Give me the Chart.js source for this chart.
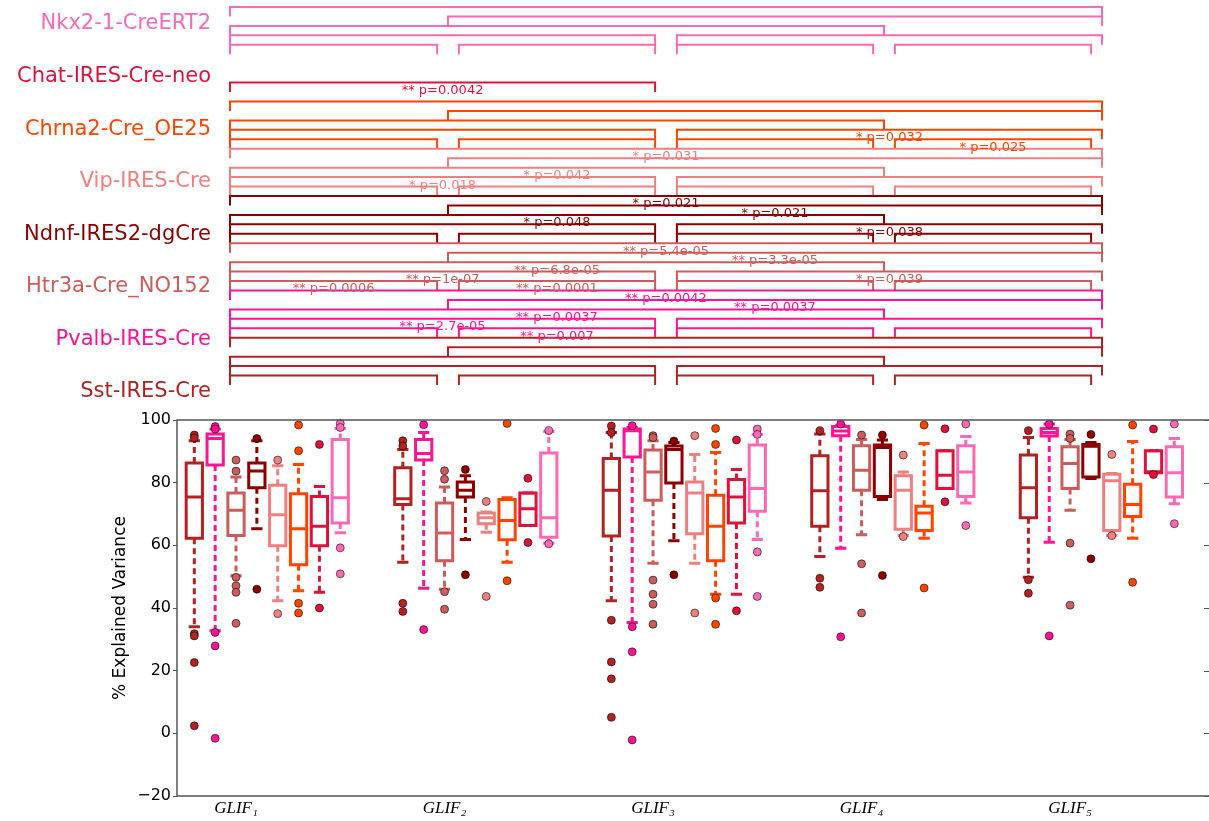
<!DOCTYPE html>
<html>
<head>
<meta charset="utf-8">
<title>GLIF explained variance by Cre line</title>
<script src="https://cdn.jsdelivr.net/npm/chart.js@4.4.0/dist/chart.umd.min.js"></script>
<style>
  html, body { margin: 0; padding: 0; background: #fff; overflow: hidden; }
  #sigChart { position: absolute; left: 0; top: 0; }
  #boxChart { position: absolute; left: 0; top: 400px; }
</style>
</head>
<body>
<canvas id="sigChart" width="1209" height="410"></canvas>
<canvas id="boxChart" width="1215" height="421"></canvas>
<script>
// GLIF levels on the x axis
const glifLabels = ["GLIF\u2081", "GLIF\u2082", "GLIF\u2083", "GLIF\u2084", "GLIF\u2085"];

// Cre lines, in box order inside each GLIF group
const creLines = ["Sst-IRES-Cre", "Pvalb-IRES-Cre", "Htr3a-Cre_NO152", "Ndnf-IRES2-dgCre",
                  "Vip-IRES-Cre", "Chrna2-Cre_OE25", "Chat-IRES-Cre-neo", "Nkx2-1-CreERT2"];
const creColors = ["#b22222", "#ff1493", "#cd5c5c", "#8b0000", "#f08080", "#ff4500", "#dc143c", "#ff69b4"];

// box statistics: one row per Cre line, one column per GLIF level
const whiskerHigh = [
  [93.4, 90.6, 96.0, 95.5, 94.4],
  [97.1, 96.0, 97.6, 98.2, 98.7],
  [81.8, 78.6, 93.4, 93.8, 93.8],
  [93.4, 82.2, 92.8, 93.6, 92.8],
  [85.4, 70.6, 89.0, 83.4, 82.9],
  [85.8, 75.2, 89.6, 92.5, 93.1],
  [78.8, 76.7, 84.2, 90.2, 90.2],
  [97.3, 96.3, 95.4, 94.7, 94.1]
];
const upperQuartile = [
  [86.3, 84.8, 87.7, 88.6, 88.8],
  [95.5, 93.8, 97.1, 97.9, 97.3],
  [76.7, 73.5, 90.4, 91.8, 91.5],
  [86.3, 80.2, 91.7, 92.0, 92.2],
  [79.2, 70.3, 80.2, 82.2, 82.7],
  [76.5, 74.6, 76.0, 72.5, 79.5],
  [75.6, 76.7, 81.0, 90.2, 90.2],
  [93.8, 89.5, 92.0, 91.8, 91.5]
];
const medians = [
  [75.4, 74.9, 77.6, 77.4, 78.4],
  [94.1, 89.3, 96.6, 96.5, 96.0],
  [71.2, 63.9, 83.4, 84.0, 86.1],
  [83.7, 77.6, 90.6, 91.2, 91.6],
  [69.8, 68.8, 76.7, 77.6, 80.6],
  [65.3, 67.9, 66.1, 70.3, 73.0],
  [66.1, 71.7, 75.4, 82.4, 83.5],
  [75.2, 68.8, 78.1, 83.4, 83.2]
];
const lowerQuartile = [
  [62.3, 73.0, 63.0, 66.1, 68.8],
  [85.6, 87.2, 88.2, 95.0, 94.9],
  [63.1, 55.1, 74.4, 77.6, 78.1],
  [78.4, 75.4, 79.9, 75.6, 81.8],
  [59.9, 66.9, 63.7, 65.1, 64.7],
  [53.8, 61.8, 55.1, 64.7, 69.2],
  [59.9, 66.3, 67.1, 78.1, 83.2],
  [67.1, 62.6, 70.9, 75.6, 75.4]
];
const whiskerLow = [
  [34.0, 54.6, 42.3, 56.4, 49.8],
  [32.7, 46.3, 35.4, 59.1, 61.0],
  [50.3, 46.0, 54.3, 63.4, 71.2],
  [65.3, 61.9, 61.5, 74.6, 81.3],
  [42.3, 64.2, 54.3, 63.1, 63.1],
  [45.5, 54.6, 44.4, 62.3, 62.3],
  [45.0, 66.3, 44.4, 78.1, 83.2],
  [64.0, 60.7, 61.9, 73.5, 73.3]
];
const outliers = [
  [[95.2, 94.3, 31.8, 31.1, 22.6, 2.4], [93.4, 91.7, 41.5, 38.9], [98.1, 96.0, 36.1, 22.8, 17.4, 5.1], [96.6, 49.5, 46.6], [96.6, 49.0, 44.7]],
  [[97.9, 97.1, 32.2, 27.9, -1.6], [98.5, 33.1], [98.2, 34.0, 26.0, -2.1], [98.7, 30.8], [98.7, 31.1]],
  [[87.2, 83.7, 49.8, 47.1, 45.0, 35.1], [83.8, 81.1, 45.2, 39.6], [95.0, 94.4, 48.9, 44.4, 41.2, 34.8], [95.2, 54.1, 38.4], [95.5, 94.1, 60.7, 40.9]],
  [[94.1, 46.0], [84.2, 50.6], [93.3, 50.6], [95.2, 50.4], [95.4, 55.7]],
  [[87.2, 38.2], [74.0, 43.7], [95.0, 38.4], [88.8, 62.8], [89.0, 63.1]],
  [[98.4, 90.2, 41.5, 38.4], [98.9, 48.7], [97.3, 92.2, 43.2, 34.8], [98.4, 46.4], [98.4, 48.2]],
  [[92.2, 40.0], [81.4, 60.9], [93.6, 39.1], [97.2, 73.9], [97.1, 82.6]],
  [[98.9, 97.6, 59.2, 50.9], [96.6, 60.5], [97.1, 95.4, 57.9, 43.7], [98.7, 66.3], [98.7, 66.9]]
];

// pairwise GLIF comparisons and the row each bracket sits on inside a Cre line's block
const pairs = [[1, 5], [2, 5], [1, 4], [1, 3], [3, 5], [1, 2], [2, 3], [3, 4], [4, 5]];
const pairRows = [0, 1, 2, 3, 3, 4, 4, 4, 4];
// brackets drawn for each Cre line (indices into pairs)
const shownPairs = [
  [0, 1, 2, 3, 4, 5, 6, 7, 8],
  [0, 1, 2, 3, 4, 5, 6, 7, 8],
  [0, 1, 2, 3, 4, 5, 6, 7, 8],
  [0, 1, 2, 3, 4, 5, 6, 7, 8],
  [0, 1, 2, 3, 4, 5, 6, 7, 8],
  [0, 1, 2, 3, 4, 5, 6, 7, 8],
  [3],
  [0, 1, 2, 3, 4, 5, 6, 7, 8]
];
// significance labels: [pair index, text]
const pLabels = [
  [],
  [[0, "** p=0.0042"], [1, "** p=0.0037"], [2, "** p=0.0037"], [3, "** p=2.7e-05"], [6, "** p=0.007"]],
  [[0, "** p=5.4e-05"], [1, "** p=3.3e-05"], [2, "** p=6.8e-05"], [3, "** p=1e-07"], [4, "* p=0.039"], [5, "** p=0.0006"], [6, "** p=0.0001"]],
  [[0, "* p=0.021"], [1, "* p=0.021"], [2, "* p=0.048"], [4, "* p=0.038"]],
  [[0, "* p=0.031"], [2, "* p=0.042"], [3, "* p=0.018"]],
  [[4, "* p=0.032"], [8, "* p=0.025"]],
  [[3, "** p=0.0042"]],
  []
];

Chart.defaults.font.family = '"DejaVu Sans", sans-serif';

// ---------- significance brackets ----------
const ROWS_PER_LINE = 5;
const NUDGE = 0.05;        // inward shift where brackets share a row
const NAME_X = 0.913;      // right edge of the Cre line names

function blockOf(g) { return creLines.length - 1 - g; }

function bracketEnds(p) {
  const [i, j] = pairs[p];
  const tight = pairRows[p] >= 3;
  const x1 = i + (tight && i > 1 ? NUDGE : 0);
  const x2 = j - (tight && (j < 5 || pairRows[p] === 4) ? NUDGE : 0);
  return [x1, x2];
}

const sigSets = creLines.map((name, g) => {
  const pts = [];
  shownPairs[g].forEach(p => {
    const v = ROWS_PER_LINE * blockOf(g) + pairRows[p];
    const [x1, x2] = bracketEnds(p);
    pts.push({ x: x1, y: v + 1 }, { x: x1, y: v }, { x: x2, y: v }, { x: x2, y: v + 1 }, { x: x2, y: null });
  });
  return {
    label: name, data: pts, borderColor: creColors[g], borderWidth: 2,
    pointRadius: 0, spanGaps: false, fill: false, borderJoinStyle: 'miter', clip: false
  };
});

const sigText = {
  id: 'sigText',
  afterDatasetsDraw(chart) {
    const { ctx, scales } = chart;
    ctx.save();
    ctx.textAlign = 'center';
    ctx.textBaseline = 'middle';
    ctx.font = '13px "DejaVu Sans"';
    pLabels.forEach((list, g) => {
      ctx.fillStyle = creColors[g];
      list.forEach(([p, txt]) => {
        const [x1, x2] = bracketEnds(p);
        const v = ROWS_PER_LINE * blockOf(g) + pairRows[p];
        ctx.fillText(txt, scales.x.getPixelForValue((x1 + x2) / 2), scales.y.getPixelForValue(v + 0.85));
      });
    });
    ctx.textAlign = 'right';
    ctx.font = '21px "DejaVu Sans"';
    creLines.forEach((name, g) => {
      ctx.fillStyle = creColors[g];
      ctx.fillText(name, scales.x.getPixelForValue(NAME_X), scales.yName.getPixelForValue(blockOf(g)));
    });
    ctx.restore();
  }
};

new Chart(document.getElementById('sigChart'), {
  type: 'line',
  data: { datasets: sigSets },
  options: {
    responsive: false,
    animation: false,
    devicePixelRatio: 1,
    layout: { padding: 0 },
    plugins: { legend: { display: false }, tooltip: { enabled: false } },
    scales: {
      x: { type: 'linear', display: false, min: -0.055, max: 5.4908 },
      y: { type: 'linear', display: false, reverse: true, min: -0.7407, max: 42.646 },
      yName: { type: 'linear', display: false, reverse: true, min: -0.4565, max: 7.3427 }
    }
  },
  plugins: [sigText]
});

// ---------- box plots ----------
const FIRST_OFFSET = -0.2, STEP = 0.1, HALF_BOX = 0.039, HALF_CAP = 0.027;

function boxX(g, k) { return k + 1 + FIRST_OFFSET + STEP * g; }

const boxSets = [];
creLines.forEach((name, g) => {
  const color = creColors[g];
  const box = [], whisk = [], caps = [], dots = [];
  glifLabels.forEach((lab, k) => {
    const cx = boxX(g, k);
    const lo = lowerQuartile[g][k], hi = upperQuartile[g][k], med = medians[g][k];
    const wl = whiskerLow[g][k], wh = whiskerHigh[g][k];
    box.push({ x: cx - HALF_BOX, y: lo }, { x: cx + HALF_BOX, y: lo }, { x: cx + HALF_BOX, y: hi },
             { x: cx - HALF_BOX, y: hi }, { x: cx - HALF_BOX, y: lo }, { x: cx, y: null },
             { x: cx - HALF_BOX, y: med }, { x: cx + HALF_BOX, y: med }, { x: cx, y: null });
    whisk.push({ x: cx, y: lo }, { x: cx, y: wl }, { x: cx, y: null },
               { x: cx, y: hi }, { x: cx, y: wh }, { x: cx, y: null });
    caps.push({ x: cx - HALF_CAP, y: wl }, { x: cx + HALF_CAP, y: wl }, { x: cx, y: null },
              { x: cx - HALF_CAP, y: wh }, { x: cx + HALF_CAP, y: wh }, { x: cx, y: null });
    outliers[g][k].forEach(v => dots.push({ x: cx, y: v }));
  });
  const common = { pointRadius: 0, spanGaps: false, fill: false, borderColor: color, borderWidth: 3 };
  boxSets.push({ ...common, label: name + ' whiskers', data: whisk, borderDash: [6, 4], order: 3 });
  boxSets.push({ ...common, label: name + ' caps', data: caps, order: 2 });
  boxSets.push({ ...common, label: name, data: box, borderCapStyle: 'square', borderJoinStyle: 'miter', order: 1 });
  boxSets.push({
    label: name + ' outliers', data: dots, showLine: false, order: 0, clip: false,
    pointRadius: 4, pointBackgroundColor: color, pointBorderColor: 'rgba(0,0,0,0.55)', pointBorderWidth: 1
  });
});

const frame = {
  id: 'frame',
  afterDraw(chart) {
    const { ctx, chartArea: a, scales } = chart;
    ctx.save();
    ctx.strokeStyle = '#555';
    ctx.lineWidth = 1.5;
    ctx.beginPath();
    ctx.moveTo(a.right, a.top);
    ctx.lineTo(a.left, a.top);
    ctx.lineTo(a.left, a.bottom);
    ctx.lineTo(a.right, a.bottom);
    ctx.stroke();
    // inward ticks on the right side
    ctx.lineWidth = 1;
    scales.y.ticks.forEach(t => {
      const py = Math.round(scales.y.getPixelForValue(t.value)) + 0.5;
      ctx.beginPath();
      ctx.moveTo(a.right - 6, py);
      ctx.lineTo(a.right, py);
      ctx.stroke();
    });
    ctx.restore();
  }
};

new Chart(document.getElementById('boxChart'), {
  type: 'line',
  data: { datasets: boxSets },
  options: {
    responsive: false,
    animation: false,
    devicePixelRatio: 1,
    layout: { padding: { top: 20, right: 5, left: 0, bottom: 0 } },
    plugins: { legend: { display: false }, tooltip: { enabled: false } },
    scales: {
      x: {
        type: 'linear', min: 0.717, max: 5.671,
        afterBuildTicks: s => { s.ticks = glifLabels.map((lab, k) => ({ value: k + 1 })); },
        afterFit: s => { s.height = 25; },
        grid: { display: false, drawTicks: false, tickLength: 0 },
        border: { display: false },
        ticks: {
          callback: v => glifLabels[Math.round(v) - 1],
          font: { family: '"Liberation Serif", serif', style: 'italic', size: 17 },
          color: '#000', padding: 2, maxRotation: 0, autoSkip: false
        }
      },
      y: {
        type: 'linear', min: -20, max: 100,
        afterFit: s => { s.width = 177; },
        grid: { drawOnChartArea: false, tickLength: 4, color: '#555' },
        border: { display: false },
        ticks: {
          stepSize: 20, color: '#000', padding: 2, font: { size: 16 },
          callback: v => (v < 0 ? '\u2212' + (-v) : String(v))
        },
        title: {
          display: true, text: '% Explained Variance', color: '#000',
          font: { size: 17 }, padding: { top: 110, bottom: 0 }
        }
      }
    }
  },
  plugins: [frame]
});
</script>
</body>
</html>
